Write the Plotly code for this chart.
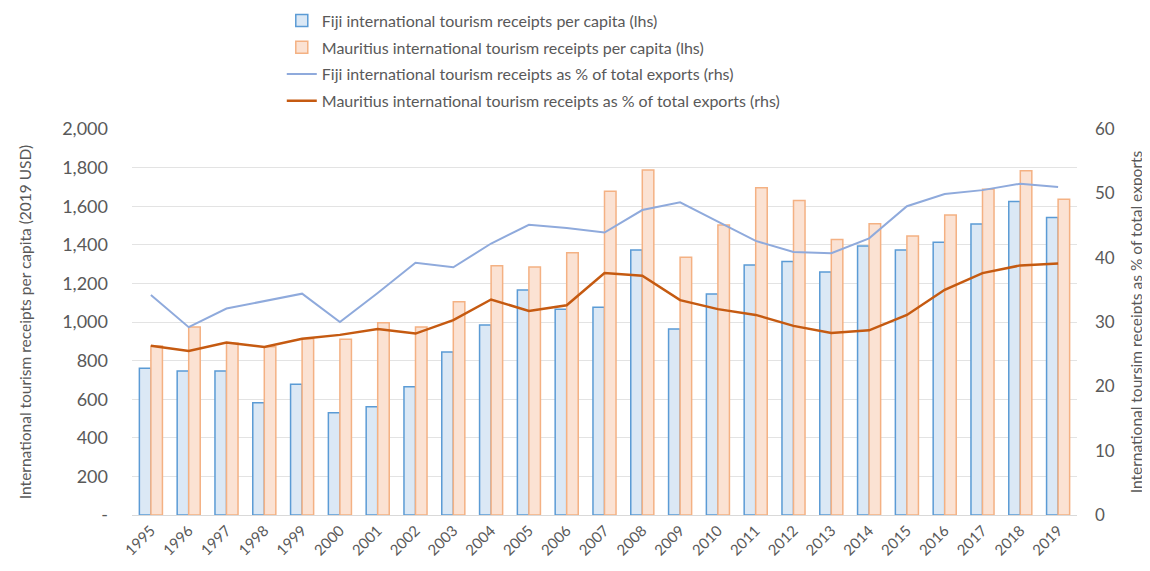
import plotly.graph_objects as go

years = [str(y) for y in range(1995, 2020)]

fiji_receipts_pc = [760, 746, 746, 582, 677, 530, 561, 665, 845, 984, 1166, 1066, 1076, 1373,
                    964, 1145, 1295, 1314, 1259, 1394, 1373, 1413, 1508, 1625, 1542]
mauritius_receipts_pc = [876, 974, 890, 872, 913, 911, 996, 974, 1105, 1292, 1285, 1359, 1677, 1788,
                         1335, 1503, 1696, 1629, 1428, 1509, 1446, 1554, 1688, 1784, 1636]
fiji_pct_exports = [34.2, 29.2, 32.1, 33.3, 34.4, 30.0, 34.5, 39.2, 38.5, 42.2, 45.1, 44.6, 43.9, 47.4,
                    48.6, 45.6, 42.6, 40.9, 40.7, 43.0, 48.0, 49.9, 50.5, 51.5, 51.0]
mauritius_pct_exports = [26.3, 25.5, 26.8, 26.1, 27.4, 28.0, 28.9, 28.2, 30.3, 33.5, 31.7, 32.6, 37.6, 37.2,
                         33.4, 32.0, 31.1, 29.4, 28.3, 28.7, 31.1, 35.0, 37.6, 38.8, 39.1]

left_tickvals = [0, 200, 400, 600, 800, 1000, 1200, 1400, 1600, 1800, 2000]
left_ticktext = ["-", "200", "400", "600", "800", "1,000", "1,200", "1,400", "1,600", "1,800", "2,000"]
right_tickvals = [0, 10, 20, 30, 40, 50, 60]

FONT = "Lato, Carlito, Calibri, sans-serif"
GREY = "#595959"

fig = go.Figure()
fig.add_trace(go.Bar(
    x=years, y=fiji_receipts_pc, name="Fiji international tourism receipts per capita (lhs)",
    marker=dict(color="#dbe8f5", line=dict(color="#5b9bd5", width=1.5)),
    legendgroup="a"))
fig.add_trace(go.Bar(
    x=years, y=mauritius_receipts_pc, name="Mauritius international tourism receipts per capita (lhs)",
    marker=dict(color="#fbe2d3", line=dict(color="#f4b183", width=1.5)),
    legendgroup="b"))
fig.add_trace(go.Scatter(
    x=years, y=fiji_pct_exports, yaxis="y2", mode="lines",
    name="Fiji international tourism receipts as % of total exports (rhs)",
    line=dict(color="#8faadc", width=2), legendgroup="c"))
fig.add_trace(go.Scatter(
    x=years, y=mauritius_pct_exports, yaxis="y2", mode="lines",
    name="Mauritius international tourism receipts as % of total exports (rhs)",
    line=dict(color="#c55a11", width=2.5), legendgroup="d"))

fig.update_layout(
    width=1150, height=571,
    margin=dict(l=124, r=81, t=121, b=64, autoexpand=False),
    paper_bgcolor="white", plot_bgcolor="white",
    font=dict(family=FONT, size=15, color=GREY),
    barmode="group", bargap=0.39, bargroupgap=0.0,
    showlegend=True,
    legend=dict(x=0.1585, xanchor="left", y=1.325, yanchor="top",
                traceorder="grouped", tracegroupgap=3,
                font=dict(family=FONT, size=16, color=GREY),
                bgcolor="rgba(0,0,0,0)"),
    xaxis=dict(type="category", tickangle=-45, showgrid=False, showline=True,
               linecolor="#d9d9d9", linewidth=1, ticks="", automargin=False,
               tickfont=dict(family=FONT, size=15, color=GREY)),
    yaxis=dict(range=[0, 2000], tickvals=left_tickvals, ticktext=left_ticktext,
               showgrid=True, gridcolor="#e3e3e3", gridwidth=1, zeroline=False,
               ticks="", automargin=False, ticklabelstandoff=23,
               tickfont=dict(family=FONT, size=18, color=GREY),
               title=dict(text="International tourism receipts per capita (2019 USD)",
                          font=dict(family=FONT, size=15.5, color=GREY), standoff=26)),
    yaxis2=dict(range=[0, 60], tickvals=right_tickvals, overlaying="y", side="right",
                showgrid=False, zeroline=False, ticks="", automargin=False,
                ticklabelstandoff=17,
                tickfont=dict(family=FONT, size=17, color=GREY),
                title=dict(text="International toursim receipts as % of total exports",
                           font=dict(family=FONT, size=15.5, color=GREY), standoff=17)),
)

fig.write_html("out.html")
